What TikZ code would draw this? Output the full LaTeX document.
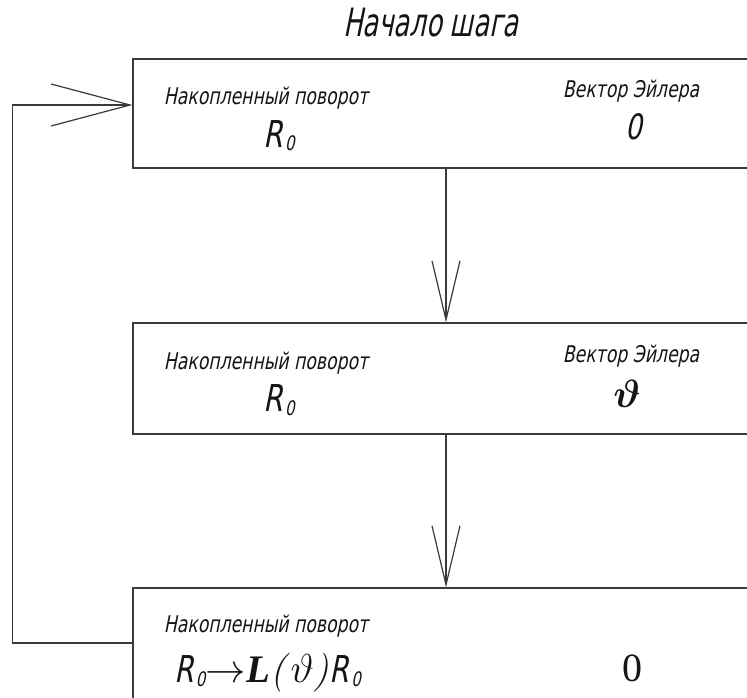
\documentclass[tikz,border=0pt]{standalone}
\usepackage{graphicx}
\usepackage{amsmath}
\usepackage{bm}
\usepackage{fontspec}
\newfontfamily\gost{DejaVu Sans}[FakeSlant=0.2,FakeStretch=0.75]
\newfontfamily\gostT{DejaVu Sans}[FakeSlant=0.2,FakeStretch=0.66]
\newfontfamily\tms{Liberation Serif}
\usetikzlibrary{arrows.meta}
\definecolor{ln}{HTML}{3A3A3A}
\definecolor{tx}{HTML}{151515}
\newcommand{\Rnull}{{\fontsize{37}{37}\selectfont\gost R}\kern2.5pt\raisebox{-4pt}{\fontsize{20}{20}\selectfont\gost 0}}
\begin{document}
\begin{tikzpicture}[x=1pt,y=-1pt,
  box/.style={draw=ln,line width=1.2pt,minimum width=626pt,inner sep=0pt},
  lbl/.style={anchor=base,inner sep=0pt,text=tx,font=\fontsize{23}{23}\selectfont\gost},
  val/.style={anchor=base,inner sep=0pt,text=tx},
  arr/.style={draw=ln,line width=1.2pt,-{Straight Barb[length=59pt,width=28pt]}},
  arrL/.style={draw=ln,line width=1.2pt,-{Straight Barb[length=79pt,width=42pt]}}]
\useasboundingbox (0,0) rectangle (747,698);
\clip (0,0) rectangle (747,698);
\fill[white] (0,0) rectangle (747,698);
% title
\node[val,font=\fontsize{39}{39}\selectfont\gostT] (title) at (431,37) {Начало шага};
% boxes
\node[box,minimum height=109pt] (b1) at (446,113.5) {};
\node[box,minimum height=111pt] (b2) at (446,378.5) {};
\node[box,minimum height=120pt] (b3) at (446,648) {};
% box 1
\node[lbl] (l1) at (266,105) {Накопленный поворот};
\node[val] (r1) at (279,147) {\Rnull};
\node[lbl] (e1) at (631,98) {Вектор Эйлера};
\node[val,font=\fontsize{35}{35}\selectfont\gost] (v1) at (634,140) {0};
% box 2
\node[lbl] (l2) at (266,369) {Накопленный поворот};
\node[val] (r2) at (279,411) {\Rnull};
\node[lbl] (e2) at (631,362) {Вектор Эйлера};
\node[val,font=\fontsize{20}{20}\selectfont] (v2) at (627,407) {\scalebox{1.9}{$\bm{\vartheta}$}};
% box 3
\node[lbl] (l3) at (266,632) {Накопленный поворот};
\node[val,anchor=base west,font=\fontsize{20}{20}\selectfont] (r3) at (174,682)
  {\Rnull\scalebox{1.95}{$\rightarrow$\kern0.5pt{\tms\bfseries\itshape L}\textit{(}$\vartheta$\textit{)}}\Rnull};
\node[val,font=\fontsize{40}{40}\selectfont\tms] (v3) at (632,681) {0};
% connectors
\draw[arr] (b1.south) -- (b2.north);
\draw[arr] (b2.south) -- (b3.north);
\draw[arrL] ([yshift=5pt]b3.west) -- ++(-120,0) |- ([yshift=8.5pt]b1.west);
\end{tikzpicture}
\end{document}
